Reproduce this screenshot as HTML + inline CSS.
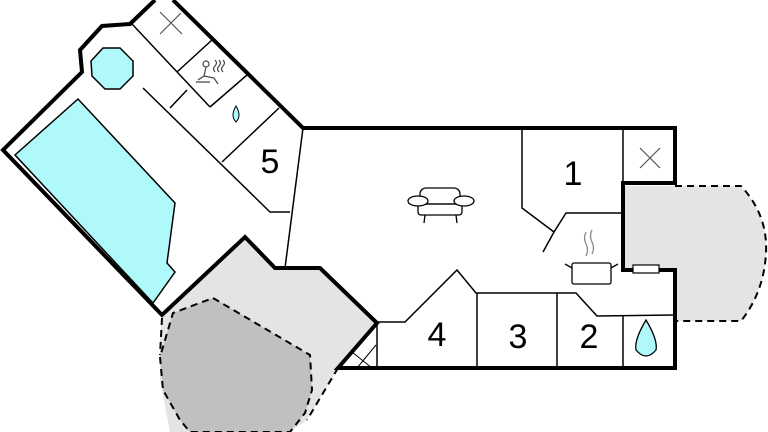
<!DOCTYPE html>
<html><head><meta charset="utf-8"><style>
html,body{margin:0;padding:0;background:#fff;}
svg{display:block}
text{font-family:"Liberation Sans",sans-serif;}
</style></head><body>
<svg width="768" height="432" viewBox="0 0 768 432" xmlns="http://www.w3.org/2000/svg">
<polygon points="162,318 245,237 275,268 320,268 377,323 338,368 307,420 290,432 170,432 160,380 160,340" fill="#e4e4e4"/>
<path d="M675,186 L741,186 Q768,215 766,253 Q764,292 741,321 L675,321 L675,270 L623,270 L623,186 Z" fill="#e4e4e4"/>
<path d="M675,186 L741,186 Q768,215 766,253 Q764,292 741,321 L675,321" fill="none" stroke="#000" stroke-width="2" stroke-dasharray="7,5"/>
<path d="M162,318 L160,355 M338,368 L307,420" fill="none" stroke="#000" stroke-width="2" stroke-dasharray="7,5"/>
<polygon points="213,298 310,355 312,390 305,413 290,432 190,432 180,420 163,390 160,357 173,313" fill="#c0c0c0" stroke="#000" stroke-width="2" stroke-dasharray="7,5"/>
<polygon points="15,155 78,99 175,203 167,263 175,272 153,303" fill="#aff9fb" stroke="#000" stroke-width="1.5"/>
<polygon points="103,48 120,48 133,61 133,76 120,89 105,89 92,76 91,61" fill="#aff9fb" stroke="#000" stroke-width="1.5"/>
<g fill="none" stroke="#000" stroke-width="1.5">
<path d="M132,24 L210,107"/>
<path d="M177,72 L212,40"/>
<path d="M247,75 L210,107"/>
<path d="M170,108 L187,90"/>
<path d="M143,88 L270,212 L290,212"/>
<path d="M222,162 L279,108"/>
<path d="M303,128 L285,268"/>
<path d="M522,128 L522,208 L554,232 L566,213 L621,213 M554,232 L543,252"/>
<path d="M623,128 L623,183"/>
<path d="M378,322 L405,322 L457,270 L476,293 L576,293 L597,316 L675,315"/>
<path d="M477,293 L477,368 M557,293 L557,368 M623,316 L623,368"/>
<path d="M338,368 L377,323 L377,368"/>
<path d="M352,352 L372,368 M357,368 L376,345" stroke-width="1"/>
<path d="M160,12 L182,34 M160,34 L181,13" stroke="#555" stroke-width="1.2"/>
<path d="M640,148 L660,168 M640,168 L660,148" stroke="#555" stroke-width="1.2"/>
</g>
<g fill="none" stroke="#000" stroke-width="4" stroke-linejoin="miter">
<path d="M155,0 L130,24 L102,26 L80,50 L82,72 L3,150 L162,315 L245,237 L275,268 L320,268 L377,323 L338,368 L675,368 L675,270 L623,270 L623,183 L675,183 L675,128 L303,128 L173,0"/>
</g>
<rect x="633" y="265" width="26" height="8" fill="#fff" stroke="#000" stroke-width="1.2"/>
<path d="M236,106 Q230,116 236,122 Q242,116 236,106 Z" fill="#aff9fb" stroke="#000" stroke-width="1"/>
<path d="M646,320 Q634,340 636,350 Q646,362 656,350 Q658,340 646,320 Z" fill="#aff9fb" stroke="#000" stroke-width="1.3"/>
<g fill="none" stroke="#444" stroke-width="1.2">
<circle cx="206" cy="64" r="3"/>
<path d="M206,67 L204,76 L214,78 L218,84 M204,76 L198,80 M196,82 L210,82"/>
<path d="M215,60 q3,3 0,6 q-3,3 0,6 M219,60 q3,3 0,6 q-3,3 0,6 M223,60 q3,3 0,6 q-3,3 0,6"/>
</g>
<g fill="none" stroke="#000" stroke-width="1.3">
<rect x="420" y="188" width="40" height="16" rx="6"/>
<rect x="418" y="204" width="44" height="11" rx="3"/>
<ellipse cx="418" cy="201" rx="10" ry="5" fill="#fff"/>
<ellipse cx="464" cy="201" rx="10" ry="5" fill="#fff"/>
<path d="M425,215 L424,223 M456,215 L457,223"/>
<rect x="572" y="263" width="39" height="21" rx="2"/>
<path d="M572,268 L565,264 M611,268 L618,264"/>
<path d="M586,232 q-3,6 0,12 q3,6 0,12 M592,230 q-3,6 0,12 q3,6 0,12" stroke="#888"/>
</g>
<g font-size="34" fill="#000" text-anchor="middle">
<text x="270" y="173">5</text>
<text x="573" y="185">1</text>
<text x="437" y="346">4</text>
<text x="518" y="348">3</text>
<text x="589" y="348">2</text>
</g>
</svg>
</body></html>
